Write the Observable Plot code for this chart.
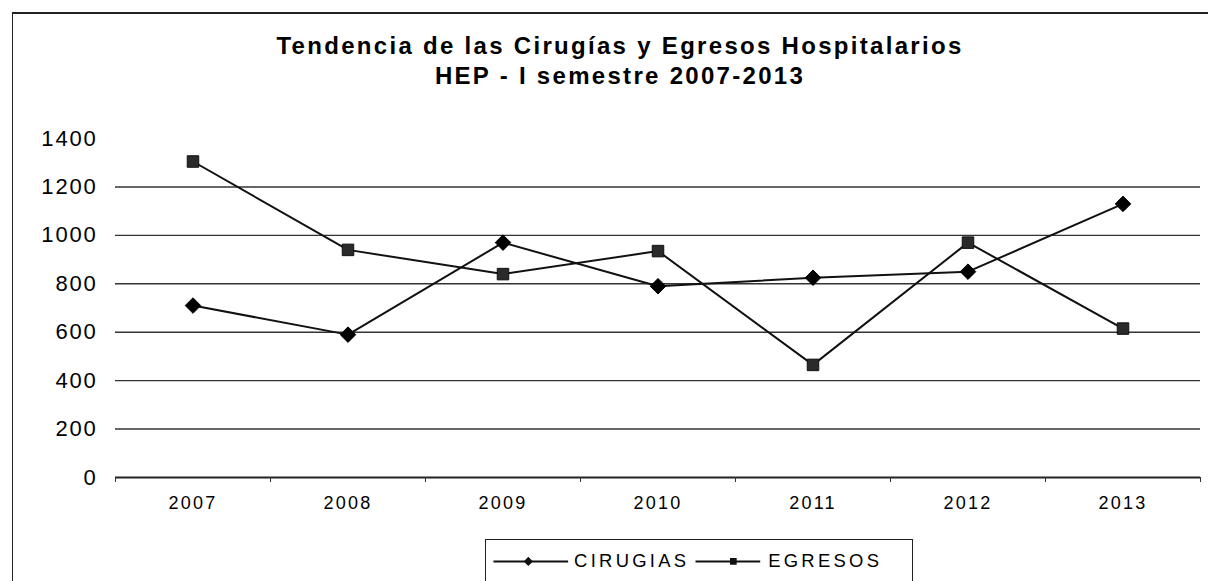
<!DOCTYPE html>
<html>
<head>
<meta charset="utf-8">
<script src="https://cdn.jsdelivr.net/npm/d3@7"></script>
<script src="https://cdn.jsdelivr.net/npm/@observablehq/plot@0.6"></script>
<style>
  html, body { margin: 0; padding: 0; background: #fff; }
  #wrap { position: relative; width: 1208px; height: 581px; overflow: hidden; font-family: "Liberation Sans", Arial, sans-serif; color: #000; }
  #frame { position: absolute; left: 12px; top: 12px; width: 1196px; height: 569px; border-left: 1.5px solid #222; border-top: 2px solid #222; box-sizing: border-box; }
  #title { position: absolute; left: 0; width: 1208px; padding-left: 32px; box-sizing: border-box; top: 31px; text-align: center; font-weight: bold; font-size: 24px; line-height: 30px; letter-spacing: 2.3px; }
  #chart { position: absolute; left: 0; top: 0; }
  #legend { position: absolute; left: 485px; top: 539px; width: 428px; height: 42px; border: 1.5px solid #222; border-bottom: none; box-sizing: border-box; }
  #legend svg { position: absolute; left: 0; top: 0; }
</style>
</head>
<body>
<div id="wrap">
  <div id="frame"></div>
  <div id="title">Tendencia de las Cirugías y Egresos Hospitalarios<br>HEP - I semestre 2007-2013</div>
  <div id="chart"></div>
  <div id="legend"></div>
</div>
<script>
const years = [2007, 2008, 2009, 2010, 2011, 2012, 2013];
const cirugias = [710, 590, 970, 790, 825, 850, 1130];
const egresos = [1305, 940, 840, 935, 465, 970, 615];
const yTicks = [0, 200, 400, 600, 800, 1000, 1200, 1400];
const seriesNames = ["CIRUGIAS", "EGRESOS"];

const rows = [];
years.forEach((yr, i) => {
  rows.push({year: yr, value: cirugias[i], series: seriesNames[0]});
  rows.push({year: yr, value: egresos[i], series: seriesNames[1]});
});
const cir = rows.filter(d => d.series === "CIRUGIAS");
const egr = rows.filter(d => d.series === "EGRESOS");
const boundaries = years.map(y => y - 0.5).concat([years[years.length - 1] + 0.5]);

const chart = Plot.plot({
  width: 1208,
  height: 540,
  marginTop: 138,
  marginBottom: 63,
  marginLeft: 115,
  marginRight: 8,
  style: {fontFamily: "Liberation Sans, Arial, sans-serif", background: "transparent", color: "#000"},
  x: {type: "linear", domain: [years[0] - 0.5, years[years.length - 1] + 0.5]},
  y: {domain: [0, 1400]},
  marks: [
    Plot.gridY(yTicks.filter(t => t > 0 && t < 1400), {stroke: "#333", strokeOpacity: 1, strokeWidth: 1.4}),
    Plot.axisY({ticks: yTicks, tickSize: 0, tickPadding: 18, tickFormat: d => String(d), label: null, fontSize: 22}),
    Plot.ruleY([0], {stroke: "#222", strokeWidth: 2}),
    Plot.axisX({ticks: boundaries, tickSize: 5, tickFormat: () => "", label: null, stroke: "#333"}),
    Plot.axisX({ticks: years, tickSize: 0, tickPadding: 19, tickFormat: d => String(d), label: null, fontSize: 18}),
    Plot.line(egr, {x: "year", y: "value", stroke: "#111", strokeWidth: 2}),
    Plot.line(cir, {x: "year", y: "value", stroke: "#111", strokeWidth: 2}),
    Plot.dot(egr, {x: "year", y: "value", symbol: "square", r: 6.5, fill: "#2a2a2a", stroke: "#111", strokeWidth: 1}),
    Plot.dot(cir, {x: "year", y: "value", symbol: "diamond2", r: 7, fill: "#000", stroke: "#000", strokeWidth: 1})
  ]
});
document.getElementById("chart").appendChild(chart);
d3.select(chart).selectAll('[aria-label="y-axis tick label"] text').style("letter-spacing", "1.8px");
d3.select(chart).selectAll('[aria-label="x-axis tick label"] text').style("letter-spacing", "2.2px");

// Legend
const legendItems = [
  {name: seriesNames[0], x1: 7, x2: 82, mx: 42, symbol: "diamond2", tx: 88},
  {name: seriesNames[1], x1: 210, x2: 275, mx: 248, symbol: "square", tx: 283}
];
const lg = Plot.plot({
  width: 428,
  height: 40,
  margin: 0,
  style: {fontFamily: "Liberation Sans, Arial, sans-serif", background: "transparent"},
  x: {type: "identity", axis: null},
  y: {type: "identity", axis: null},
  marks: [
    Plot.link(legendItems, {x1: "x1", x2: "x2", y1: () => 21, y2: () => 21, stroke: "#111", strokeWidth: 2}),
    Plot.dot(legendItems, {x: "mx", y: () => 21, symbol: "symbol", r: d => d.symbol === "square" ? 5.5 : 6.5, fill: "#111", stroke: "#111"}),
    Plot.text(legendItems, {x: "tx", y: () => 21, text: "name", textAnchor: "start", fontSize: 18.5, fill: "#000"})
  ]
});
document.getElementById("legend").appendChild(lg);
d3.select(lg).selectAll("text").style("letter-spacing", "3.3px");
</script>
</body>
</html>
